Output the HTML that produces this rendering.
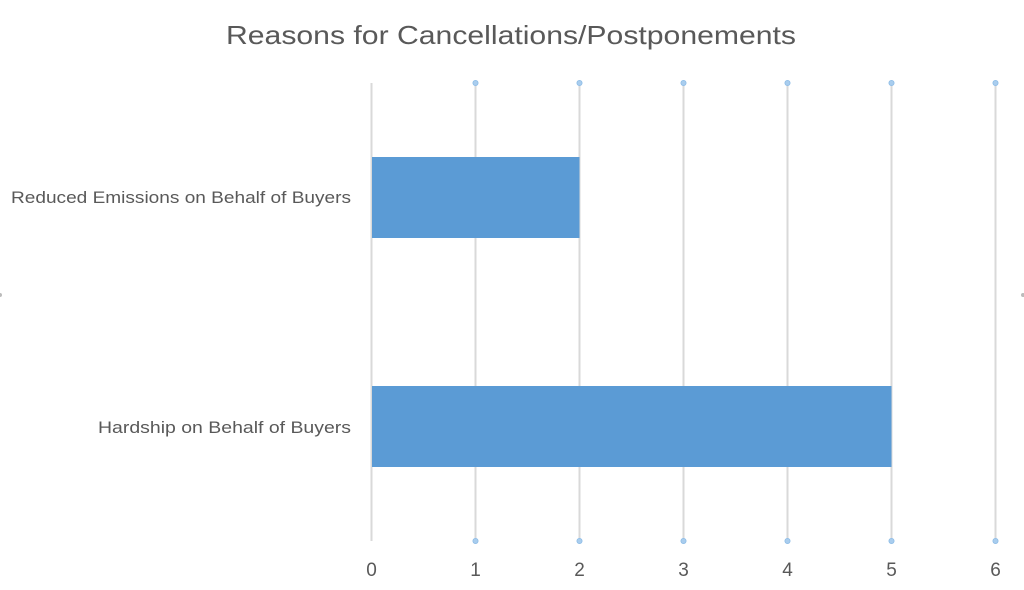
<!DOCTYPE html>
<html><head><meta charset="utf-8"><style>
html,body{margin:0;padding:0;background:#fff;}
svg{display:block;font-family:"Liberation Sans",sans-serif;}
</style></head><body>
<svg width="1024" height="590" viewBox="0 0 1024 590" xmlns="http://www.w3.org/2000/svg">
<rect width="1024" height="590" fill="#fff"/>
<text x="511" y="44" text-anchor="middle" font-size="26" fill="#595959" textLength="570" lengthAdjust="spacingAndGlyphs">Reasons for Cancellations/Postponements</text>
<g stroke="#d9d9d9" stroke-width="2">
<line x1="371.5" y1="83" x2="371.5" y2="541"/>
<line x1="475.5" y1="83" x2="475.5" y2="541"/>
<line x1="579.5" y1="83" x2="579.5" y2="541"/>
<line x1="683.5" y1="83" x2="683.5" y2="541"/>
<line x1="787.5" y1="83" x2="787.5" y2="541"/>
<line x1="891.5" y1="83" x2="891.5" y2="541"/>
<line x1="995.5" y1="83" x2="995.5" y2="541"/>
</g>
<g fill="#a9cdee" stroke="#8dbce6" stroke-width="0.8">
<circle cx="475.5" cy="83" r="2.6"/><circle cx="579.5" cy="83" r="2.6"/><circle cx="683.5" cy="83" r="2.6"/><circle cx="787.5" cy="83" r="2.6"/><circle cx="891.5" cy="83" r="2.6"/><circle cx="995.5" cy="83" r="2.6"/>
<circle cx="475.5" cy="541" r="2.6"/><circle cx="579.5" cy="541" r="2.6"/><circle cx="683.5" cy="541" r="2.6"/><circle cx="787.5" cy="541" r="2.6"/><circle cx="891.5" cy="541" r="2.6"/><circle cx="995.5" cy="541" r="2.6"/>
</g>
<rect x="372" y="157" width="207.5" height="81" fill="#5b9bd5"/>
<rect x="372" y="386" width="519.5" height="81" fill="#5b9bd5"/>
<g font-size="19" fill="#595959" text-anchor="middle">
<text x="371.5" y="576">0</text><text x="475.5" y="576">1</text><text x="579.5" y="576">2</text><text x="683.5" y="576">3</text><text x="787.5" y="576">4</text><text x="891.5" y="576">5</text><text x="995.5" y="576">6</text>
</g>
<g font-size="17" fill="#595959" text-anchor="end">
<text x="351" y="203" textLength="340" lengthAdjust="spacingAndGlyphs">Reduced Emissions on Behalf of Buyers</text>
<text x="351" y="433" textLength="253" lengthAdjust="spacingAndGlyphs">Hardship on Behalf of Buyers</text>
</g>
<circle cx="0" cy="295" r="2" fill="#bbb"/>
<circle cx="1023" cy="295" r="2" fill="#bbb"/>
</svg>
</body></html>
